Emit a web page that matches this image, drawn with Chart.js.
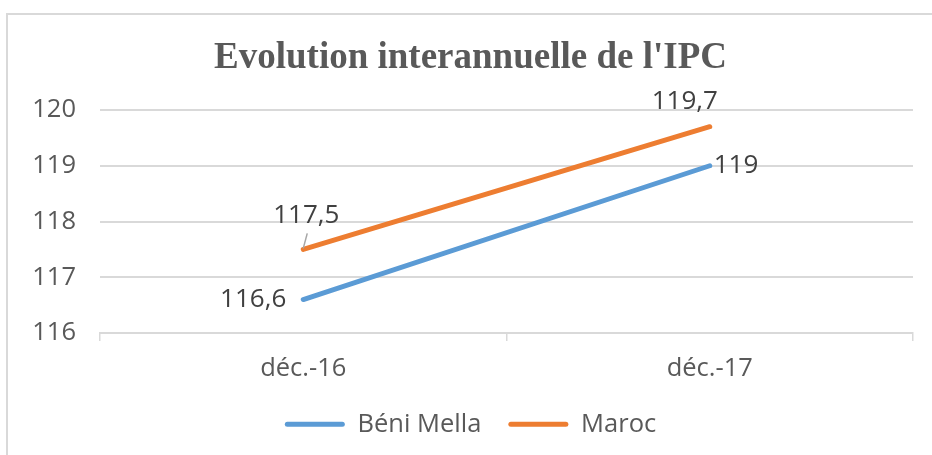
<!DOCTYPE html>
<html>
<head>
<meta charset="utf-8">
<script src="https://cdn.jsdelivr.net/npm/chart.js@4/dist/chart.umd.min.js"></script>
<style>
  html, body { margin: 0; padding: 0; background: #fff; overflow: hidden; }
  #frame { position: absolute; left: 6px; top: 13px; width: 1000px; height: 600px; border: 2px solid #d9d9d9; }
  #grafico { position: absolute; left: 0; top: 0; }
</style>
</head>
<body>
<div id="frame"></div>
<canvas id="grafico" width="932" height="455"></canvas>
<script>
var categories = ['déc.-16', 'déc.-17'];
var beniMella = [116.6, 119];
var maroc = [117.5, 119.7];
var seriesNames = ['Béni Mella', 'Maroc'];

var bleu = '#5b9bd5', orange = '#ed7d31', gris = '#595959';
var police = '"Open Sans"';

// where each data label sits relative to its point
var labelPlace = [
  [{dx: -17, dy: 0, align: 'right'}, {dx: 4, dy: 0, align: 'left'}],
  [{dx: 3, dy: -34, align: 'center', leader: true}, {dx: -25, dy: -25, align: 'center'}]
];

var valueLabels = {
  id: 'valueLabels',
  afterDatasetsDraw: function(chart) {
    var ctx = chart.ctx;
    ctx.save();
    ctx.font = '26px ' + police;
    ctx.textBaseline = 'middle';
    chart.data.datasets.forEach(function(ds, i) {
      chart.getDatasetMeta(i).data.forEach(function(pt, j) {
        var p = labelPlace[i][j];
        if (p.leader) {
          ctx.strokeStyle = '#a6a6a6';
          ctx.lineWidth = 1.5;
          ctx.beginPath();
          ctx.moveTo(pt.x + 4, pt.y - 16);
          ctx.lineTo(pt.x, pt.y - 1);
          ctx.stroke();
        }
        ctx.fillStyle = '#404040';
        ctx.textAlign = p.align;
        ctx.fillText(String(ds.data[j]).replace('.', ','), pt.x + p.dx, pt.y + p.dy);
      });
    });
    ctx.restore();
  }
};

var ctx = document.getElementById('grafico').getContext('2d');
var chart = new Chart(ctx, {
  type: 'line',
  data: {
    labels: categories,
    datasets: [
      { label: seriesNames[0], data: beniMella, borderColor: bleu, backgroundColor: bleu,
        borderWidth: 5, borderCapStyle: 'round', pointRadius: 0, tension: 0 },
      { label: seriesNames[1], data: maroc, borderColor: orange, backgroundColor: orange,
        borderWidth: 5, borderCapStyle: 'round', pointRadius: 0, tension: 0 }
    ]
  },
  options: {
    responsive: false,
    animation: false,
    layout: { padding: { left: 28, right: 19, top: 0, bottom: 8 } },
    plugins: {
      title: {
        display: true,
        text: "Evolution interannuelle de l'IPC",
        color: gris,
        font: { family: '"Liberation Serif"', size: 37, weight: 'bold' },
        padding: { top: 36, bottom: 29.6 }
      },
      legend: {
        position: 'bottom',
        labels: {
          color: gris,
          font: { family: police, size: 25.5 },
          boxWidth: 60,
          boxHeight: 5,
          useBorderRadius: true,
          borderRadius: 2.5,
          padding: 27,
          generateLabels: function(chart) {
            return Chart.defaults.plugins.legend.labels.generateLabels(chart).map(function(l) {
              l.lineWidth = 0;
              return l;
            });
          }
        }
      },
      tooltip: { enabled: false }
    },
    scales: {
      x: {
        offset: true,
        afterFit: function(s) { s.height = 51.5; },
        grid: { offset: true, drawOnChartArea: false, drawTicks: true, tickLength: 8, color: '#d9d9d9', lineWidth: 1.5 },
        border: { color: '#d9d9d9', width: 2 },
        ticks: { color: gris, font: { family: police, size: 25.5 }, padding: 12 }
      },
      y: {
        min: 116,
        max: 120,
        afterFit: function(s) { s.width = 72; },
        grid: { color: '#d9d9d9', lineWidth: 2, drawTicks: false },
        border: { display: false },
        ticks: { stepSize: 1, color: gris, font: { family: police, size: 25.5 }, padding: 24 }
      }
    }
  },
  plugins: [valueLabels]
});
</script>
</body>
</html>
